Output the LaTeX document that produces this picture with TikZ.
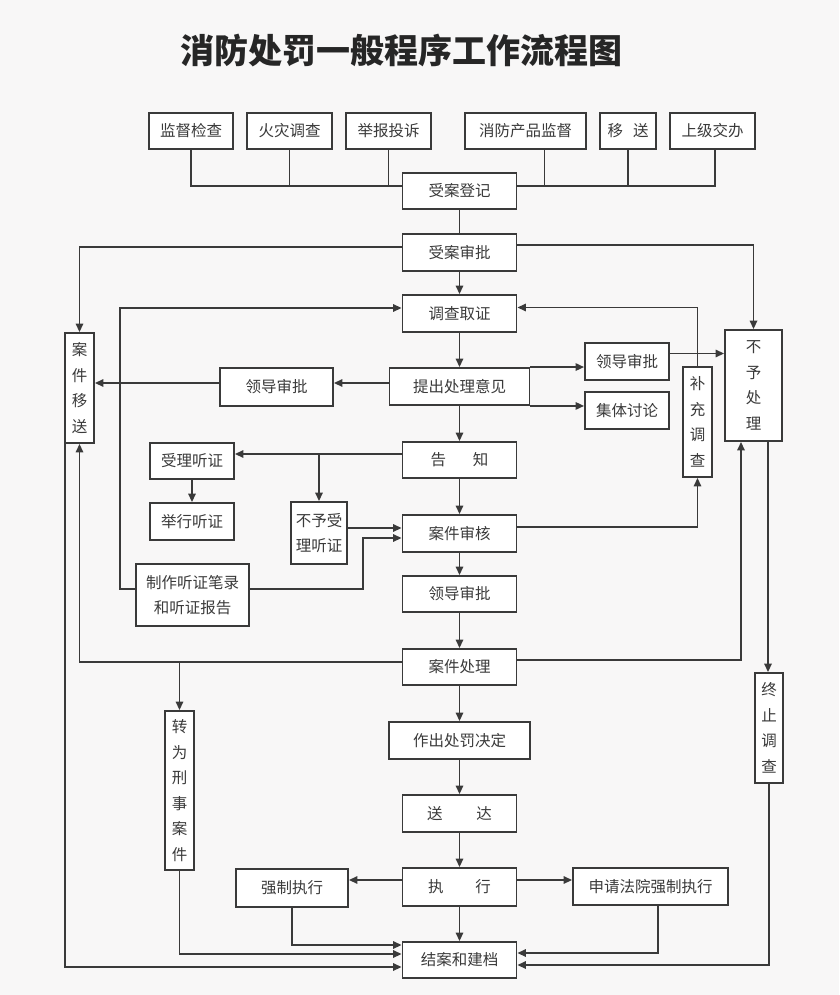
\documentclass[tikz,border=0pt]{standalone}
\usepackage{fontspec}
\newfontfamily\cjk{Noto Sans CJK SC}
\usetikzlibrary{arrows.meta}
\definecolor{ink}{HTML}{3A3A3A}
\definecolor{paper}{HTML}{F8F7F7}
\begin{document}
\begin{tikzpicture}[x=1pt,y=-1pt,
  box/.style={draw=ink, line width=1.9pt, fill=white, inner sep=0pt,
    font=\cjk\fontsize{15.5}{25.5}\selectfont, text=ink, align=center},
  wh/.style n args={2}{minimum width=#1pt, minimum height=#2pt},
  conn/.style={draw=ink, line width=1.6pt},
  arr/.style={conn, -{Triangle[length=8.5pt,width=7.5pt]}}]
\useasboundingbox[fill=paper] (0,0) rectangle (839,995);

\node[font=\cjk\bfseries\fontsize{34}{40}\selectfont, text=black!85] (title) at (401.5,51) {消防处罚一般程序工作流程图};

% top row
\node[box, wh={84}{36}] (jd) at (191,131) {监督检查};
\node[box, wh={85}{36}] (hz) at (289.5,131) {火灾调查};
\node[box, wh={85}{36}] (jb) at (388.5,131) {举报投诉};
\node[box, wh={121}{36}] (xf) at (525.5,131) {消防产品监督};
\node[box, wh={56}{36}] (ys) at (628,131) {移\hspace{10pt}送};
\node[box, wh={85}{36}] (sj) at (712.5,131) {上级交办};

% spine
\node[box, wh={114}{36}] (sadj) at (459.5,191) {受案登记};
\node[box, wh={114}{37}] (sasp) at (459.5,252.5) {受案审批};
\node[box, wh={114}{37}] (dcqz) at (459.5,313.5) {调查取证};
\node[box, wh={140}{37}] (tcyj) at (459.5,386.5) {提出处理意见};
\node[box, wh={114}{36}] (gz) at (459.5,460) {告\hspace{27pt}知};
\node[box, wh={114}{37}] (ajsh) at (459.5,533.5) {案件审核};
\node[box, wh={114}{36}] (ldsp3) at (459.5,594) {领导审批};
\node[box, wh={114}{36}] (ajcl) at (459.5,667) {案件处理};
\node[box, wh={141}{37}] (zccf) at (459.5,740.5) {作出处罚决定};
\node[box, wh={114}{37}] (sd) at (459.5,813.5) {送\hspace{34pt}达};
\node[box, wh={114}{38}] (zx) at (459.5,887) {执\hspace{32pt}行};
\node[box, wh={114}{36}] (jaja) at (459.5,960) {结案和建档};

% left side
\node[box, wh={29}{110}] (ajys) at (79.5,388) {案\\件\\移\\送};
\node[box, wh={113}{38}] (ldsp1) at (276.5,387) {领导审批};
\node[box, wh={84}{36}] (sltz) at (192,461) {受理听证};
\node[box, wh={84}{37}] (jxtz) at (192,521.5) {举行听证};
\node[box, wh={56}{62}] (byslt) at (319,533) {不予受\\理听证};
\node[box, wh={113}{62}] (zztz) at (192.5,595) {制作听证笔录\\和听证报告};
\node[box, wh={29}{159}] (zwxs) at (179.5,790.5) {转\\为\\刑\\事\\案\\件};
\node[box, wh={112}{38}] (qzzx) at (292,888) {强制执行};

% right side
\node[box, wh={84}{37}] (ldsp2) at (627,361.5) {领导审批};
\node[box, wh={84}{37}] (jttl) at (627,410.5) {集体讨论};
\node[box, wh={29}{110}] (bcdc) at (697.5,422) {补\\充\\调\\查};
\node[box, wh={57}{111}] (bycl) at (753.5,385.5) {不\\予\\处\\理};
\node[box, wh={28}{110}] (zzdc) at (769,728) {终\\止\\调\\查};
\node[box, wh={155}{37}] (sqfy) at (650.5,886.5) {申请法院强制执行};

% top collection lines
\coordinate (yTop) at (0,186);
\coordinate (xfb) at ([xshift=19pt]xf.south);
\coordinate (sjb) at ([xshift=2.5pt]sj.south);
\draw[conn] (jd.south) |- (sadj.west |- yTop);
\draw[conn] (hz.south) -- (hz.south |- yTop);
\draw[conn] (jb.south) -- (jb.south |- yTop);
\draw[conn] (sjb) |- (sadj.east |- yTop);
\draw[conn] (xfb) -- (xfb |- yTop);
\draw[conn] (ys.south) -- (ys.south |- yTop);

% spine arrows
\draw[conn] (sadj.south) -- (sasp.north);
\draw[arr] (sasp.south) -- (dcqz.north);
\draw[arr] (dcqz.south) -- (tcyj.north);
\draw[arr] (tcyj.south) -- (gz.north);
\draw[arr] (gz.south) -- (ajsh.north);
\draw[arr] (ajsh.south) -- (ldsp3.north);
\draw[arr] (ldsp3.south) -- (ajcl.north);
\draw[arr] (ajcl.south) -- (zccf.north);
\draw[arr] (zccf.south) -- (sd.north);
\draw[arr] (sd.south) -- (zx.north);
\draw[arr] (zx.south) -- (jaja.north);

% upper branches
\draw[arr] ([yshift=5.5pt]sasp.west) -| (ajys.north);
\draw[arr] ([yshift=7.5pt]sasp.east) -| (bycl.north);
\coordinate (yL) at (0,383);
\draw[arr] (tcyj.west |- yL) -- (ldsp1.east |- yL);
\draw[arr] (ldsp1.west |- yL) -- (ajys.east |- yL);
\draw[arr] (tcyj.north east) -- (ldsp2.west |- tcyj.north east);
\draw[arr] (tcyj.south east) -- (jttl.west |- tcyj.south east);
\coordinate (p1) at ([yshift=8pt]ldsp2.east);
\draw[arr] (p1) -- (p1 -| bycl.west);
\draw[arr] (bcdc.north) |- ([yshift=6pt]dcqz.east);

% hearing
\coordinate (p2) at ([yshift=6pt]gz.west);
\draw[arr] (p2) -- (p2 -| sltz.east);
\draw[arr] (p2 -| byslt.north) -- (byslt.north);
\draw[arr] (sltz.south) -- (jxtz.north);
\coordinate (p4) at ([yshift=5pt]byslt.east);
\draw[arr] (p4) -- (p4 -| ajsh.west);
\coordinate (p5) at ([yshift=6pt]zztz.east);
\draw[arr] (p5) -- ++(113,0) |- ([yshift=-4.5pt]ajsh.west);
\draw[arr] (zztz.west |- p5) -- ++(-15,0) |- ([yshift=5.5pt]dcqz.west);
\draw[arr] ([yshift=6.5pt]ajsh.east) -| (bcdc.south);

% case handling
\coordinate (q1) at ([xshift=-12.5pt]bycl.south);
\coordinate (q2) at ([xshift=14.5pt]bycl.south);
\draw[arr] ([yshift=7pt]ajcl.east) -| (q1);
\draw[arr] (q2) -- (q2 |- zzdc.north);
\coordinate (q3) at ([yshift=5pt]ajcl.west);
\draw[arr] (q3) -| (ajys.south);
\draw[arr] (q3 -| zwxs.north) -- (zwxs.north);

% execution
\coordinate (s1) at ([yshift=7pt]zx.west);
\draw[arr] (s1) -- (s1 -| qzzx.east);
\coordinate (s2) at ([yshift=7pt]zx.east);
\draw[arr] (s2) -- (s2 -| sqfy.west);

% into archive
\draw[arr] ([xshift=1pt]ajys.south west) |- ([yshift=-7pt]jaja.west);
\draw[arr] (zwxs.south) |- ([yshift=6pt]jaja.west);
\draw[arr] (qzzx.south) |- ([yshift=15pt]jaja.west);
\coordinate (s3) at ([xshift=7.5pt]sqfy.south);
\draw[arr] (s3) |- ([yshift=7pt]jaja.east);
\draw[arr] (zzdc.south) |- ([yshift=-5pt]jaja.east);
\end{tikzpicture}
\end{document}
